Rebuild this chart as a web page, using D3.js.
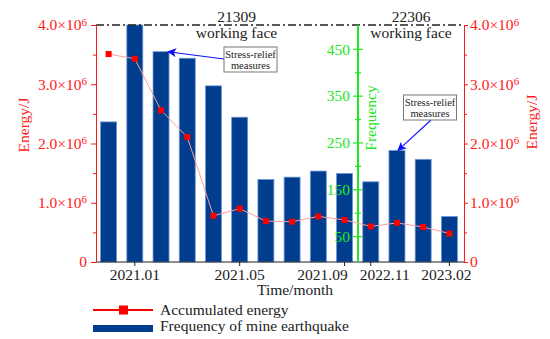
<!DOCTYPE html>
<html>
<head>
<meta charset="utf-8">
<script src="https://cdn.jsdelivr.net/npm/d3@7"></script>
<style>
  body { margin: 0; background: #fff; }
  svg { display: block; }
  svg text { font-family: "Liberation Serif", "Times New Roman", serif; }
</style>
</head>
<body>
<svg id="chart" width="550" height="339"></svg>
<script>
const months = ["2020.12", "2021.01", "2021.02", "2021.03", "2021.04", "2021.05", "2021.06",
    "2021.07", "2021.08", "2021.09", "2022.11", "2022.12", "2023.01", "2023.02"];
const frequency = [295, 505, 445, 431, 372, 305, 172, 177, 190, 185, 167, 234, 215, 93];
const energy = [3.51e6, 3.43e6, 2.56e6, 2.11e6, 0.78e6, 0.90e6, 0.69e6, 0.68e6, 0.77e6, 0.71e6,
    0.60e6, 0.66e6, 0.59e6, 0.48e6];
const monthTicks = ["2021.01", "2021.05", "2021.09", "2022.11", "2023.02"];
const energyTicks = [0, 1e6, 2e6, 3e6, 4e6];
const energyMinor = [0.5e6, 1.5e6, 2.5e6, 3.5e6];
const freqTicks = [50, 150, 250, 350, 450];
const freqMinor = [100, 200, 300, 400];

const RED = "#ff1a1a", GREEN = "#22e622", BLUE = "#003d8f", INK = "#222";
const FS = "15.5px";
const SERIF = "'Liberation Serif', 'Times New Roman', serif";
const plotL = 96, plotR = 464, plotT = 25, plotB = 262, divider = 358;

const svg = d3.select("#chart").attr("font-family", SERIF);

const x = d3.scaleBand().domain(months).range([95.5, 462.5]).paddingInner(0.39).paddingOuter(0.195);
const yE = d3.scaleLinear().domain([0, 4e6]).range([plotB, plotT]);
const yF = d3.scaleLinear().domain([0, 502]).range([260, plotT]).clamp(true);

// "4.0×10^6" style labels
function sci(sel) {
    sel.each(function (d) {
        const t = d3.select(this);
        t.text(null);
        if (d === 0) { t.text("0"); return; }
        t.append("tspan").text((d / 1e6).toFixed(1) + "\u00d710");
        t.append("tspan").attr("dy", "-0.45em").attr("font-size", "11px").text("6");
    });
}

// bars
svg.append("g").selectAll("rect")
    .data(months)
    .join("rect")
    .attr("x", d => x(d))
    .attr("width", x.bandwidth())
    .attr("y", (d, i) => yF(frequency[i]))
    .attr("height", (d, i) => plotB - yF(frequency[i]))
    .attr("fill", BLUE)
    .attr("stroke", "#6f97d4")
    .attr("stroke-width", 0.8);

// top dash-dot line
svg.append("line")
    .attr("x1", plotL).attr("x2", plotR).attr("y1", plotT).attr("y2", plotT)
    .attr("stroke", INK).attr("stroke-width", 1.3)
    .attr("stroke-dasharray", "8,3,2,3");

// bottom axis
const xAxis = svg.append("g")
    .attr("transform", `translate(0,${plotB})`)
    .call(d3.axisBottom(x).tickValues(monthTicks).tickSize(4).tickPadding(3).tickSizeOuter(0))
    .attr("font-family", SERIF).attr("font-size", FS);
xAxis.select(".domain").attr("stroke", INK).attr("d", `M${plotL},0H${plotR}`);
xAxis.selectAll(".tick line").attr("stroke", INK);
xAxis.selectAll(".tick text")
    .attr("fill", INK)
    .attr("dx", d => d === "2021.09" ? -22 : d === "2022.11" ? 14 : d === "2023.02" ? -3 : 0);

function redAxis(g) {
    g.attr("font-family", SERIF).attr("font-size", FS);
    g.selectAll(".domain, line").attr("stroke", RED);
    g.selectAll("text").attr("fill", RED);
}

// left energy axis
const leftAxis = svg.append("g")
    .attr("transform", `translate(${plotL},0)`)
    .call(d3.axisLeft(yE).tickValues(energyTicks).tickSize(5).tickPadding(4).tickSizeOuter(0));
leftAxis.selectAll(".tick text").call(sci);
leftAxis.call(redAxis);
const leftMinor = svg.append("g")
    .attr("transform", `translate(${plotL},0)`)
    .call(d3.axisLeft(yE).tickValues(energyMinor).tickSize(3).tickFormat(""));
leftMinor.select(".domain").remove();
leftMinor.call(redAxis);

// right energy axis
const rightAxis = svg.append("g")
    .attr("transform", `translate(${plotR},0)`)
    .call(d3.axisRight(yE).tickValues(energyTicks).tickSize(4).tickPadding(2).tickSizeOuter(0));
rightAxis.selectAll(".tick text").call(sci);
rightAxis.call(redAxis);
const rightMinor = svg.append("g")
    .attr("transform", `translate(${plotR},0)`)
    .call(d3.axisRight(yE).tickValues(energyMinor).tickSize(3).tickFormat(""));
rightMinor.select(".domain").remove();
rightMinor.call(redAxis);

// green frequency axis in the middle
const gF = svg.append("g").attr("transform", `translate(${divider},0)`);
gF.append("line").attr("y1", plotT).attr("y2", plotB).attr("stroke", GREEN).attr("stroke-width", 2);
gF.selectAll(".major").data(freqTicks).join("line")
    .attr("x1", -5).attr("x2", 5)
    .attr("y1", d => yF(d)).attr("y2", d => yF(d))
    .attr("stroke", GREEN).attr("stroke-width", 1.2);
gF.selectAll(".minor").data(freqMinor).join("line")
    .attr("x1", -3).attr("x2", 3)
    .attr("y1", d => yF(d)).attr("y2", d => yF(d))
    .attr("stroke", GREEN).attr("stroke-width", 1.2);
gF.selectAll("text").data(freqTicks).join("text")
    .attr("x", -8).attr("y", d => yF(d)).attr("dy", "0.34em")
    .attr("text-anchor", "end")
    .attr("fill", GREEN).attr("font-size", FS)
    .text(d => d);

// energy line + markers
const line = d3.line()
    .x((d, i) => x(months[i]) + x.bandwidth() / 2)
    .y(d => yE(d));
svg.append("path")
    .datum(energy)
    .attr("d", line)
    .attr("fill", "none")
    .attr("stroke", "#ff9d9d")
    .attr("stroke-width", 1);
svg.append("g").selectAll("rect")
    .data(energy)
    .join("rect")
    .attr("x", (d, i) => x(months[i]) + x.bandwidth() / 2 - 3)
    .attr("y", d => yE(d) - 3)
    .attr("width", 6).attr("height", 6)
    .attr("fill", "#ff0000");

// axis titles
svg.append("text")
    .attr("transform", "translate(29,125) rotate(-90)")
    .attr("text-anchor", "middle").attr("fill", RED).attr("font-size", FS)
    .text("Energy/J");
svg.append("text")
    .attr("transform", "translate(537,122) rotate(-90)")
    .attr("text-anchor", "middle").attr("fill", RED).attr("font-size", FS)
    .text("Energy/J");
svg.append("text")
    .attr("transform", "translate(375.5,118) rotate(-90)")
    .attr("text-anchor", "middle").attr("fill", GREEN).attr("font-size", FS)
    .text("Frequency");
svg.append("text")
    .attr("x", 295).attr("y", 295)
    .attr("text-anchor", "middle").attr("fill", INK).attr("font-size", FS)
    .text("Time/month");

// working face labels
[["21309", 236.5], ["22306", 411]].forEach(([name, cx]) => {
    svg.append("text").attr("x", cx).attr("y", 21.5).attr("text-anchor", "middle")
        .attr("fill", INK).attr("font-size", FS).text(name);
    svg.append("text").attr("x", cx).attr("y", 37.5).attr("text-anchor", "middle")
        .attr("fill", INK).attr("font-size", FS).text("working face");
});

// annotations
svg.append("defs").append("marker")
    .attr("id", "arrow")
    .attr("viewBox", "0 0 10 10")
    .attr("refX", 9).attr("refY", 5)
    .attr("markerWidth", 9).attr("markerHeight", 9)
    .attr("markerUnits", "userSpaceOnUse")
    .attr("orient", "auto")
    .append("path").attr("d", "M0,0L10,5L0,10L2.5,5Z").attr("fill", "#1010ff");

function note(bx, by, tx, ty, sx, sy) {
    svg.append("line")
        .attr("x1", sx).attr("y1", sy).attr("x2", tx).attr("y2", ty)
        .attr("stroke", "#1010ff").attr("stroke-width", 1.1)
        .attr("marker-end", "url(#arrow)");
    svg.append("rect")
        .attr("x", bx).attr("y", by).attr("width", 53).attr("height", 25)
        .attr("fill", "#fff").attr("stroke", "#777").attr("stroke-width", 1);
    svg.append("text").attr("x", bx + 26.5).attr("y", by + 11).attr("text-anchor", "middle")
        .attr("font-size", "10.5px").attr("fill", INK).text("Stress-relief");
    svg.append("text").attr("x", bx + 26.5).attr("y", by + 22).attr("text-anchor", "middle")
        .attr("font-size", "10.5px").attr("fill", INK).text("measures");
}
note(224, 47, x("2021.02") + x.bandwidth() - 1, yF(frequency[2]), 224, 59);
note(403.5, 95, x("2022.12") + x.bandwidth() / 2 + 1, yF(frequency[11]), 431, 120);

// legend
const lg = svg.append("g");
lg.append("line").attr("x1", 93).attr("x2", 153).attr("y1", 310).attr("y2", 310)
    .attr("stroke", "#ff0000").attr("stroke-width", 2);
lg.append("rect").attr("x", 119).attr("y", 305.5).attr("width", 9).attr("height", 9).attr("fill", "#ff0000");
lg.append("text").attr("x", 160).attr("y", 314.5).attr("font-size", FS).attr("fill", INK)
    .text("Accumulated energy");
lg.append("rect").attr("x", 93).attr("y", 325).attr("width", 60).attr("height", 7).attr("fill", BLUE);
lg.append("text").attr("x", 160).attr("y", 331).attr("font-size", FS).attr("fill", INK)
    .text("Frequency of mine earthquake");
</script>
</body>
</html>
